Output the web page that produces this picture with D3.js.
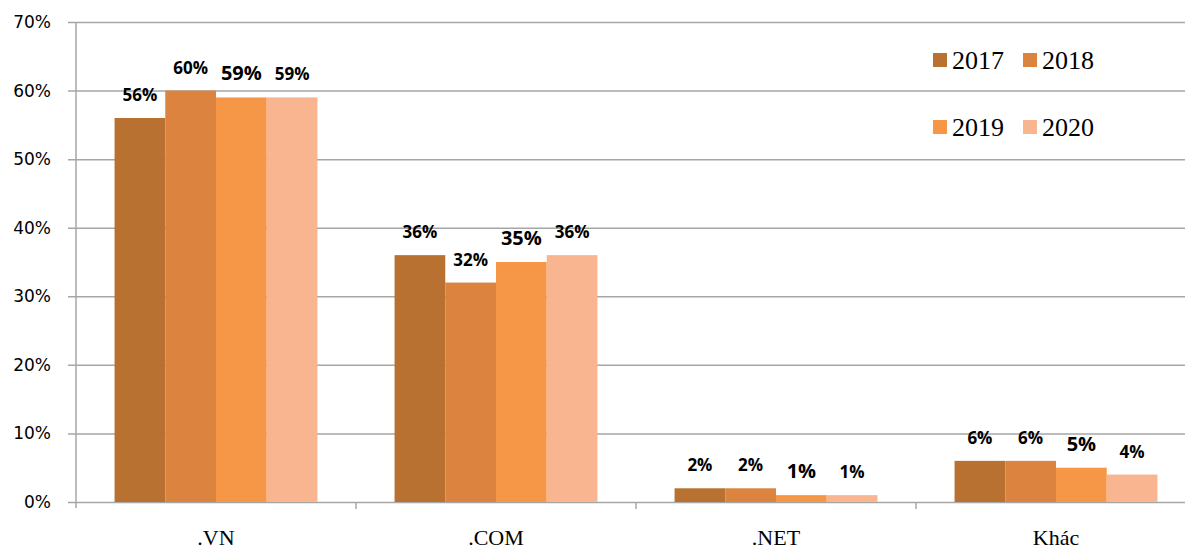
<!DOCTYPE html>
<html>
<head>
<meta charset="utf-8">
<script src="https://cdn.jsdelivr.net/npm/d3@7"></script>
<style>
  html, body { margin: 0; padding: 0; background: #fff; }
  svg { display: block; }
</style>
</head>
<body>
<svg id="chart" width="1185" height="551"></svg>
<script>
// Domain share by extension, 2017–2020
const categories = [".VN", ".COM", ".NET", "Khác"];
const years = ["2017", "2018", "2019", "2020"];
const share2017 = [0.56, 0.36, 0.02, 0.06];
const share2018 = [0.60, 0.32, 0.02, 0.06];
const share2019 = [0.59, 0.35, 0.01, 0.05];
const share2020 = [0.59, 0.36, 0.01, 0.04];
const yTicks = [0, 0.1, 0.2, 0.3, 0.4, 0.5, 0.6, 0.7];

const seriesValues = [share2017, share2018, share2019, share2020];
const colors = ["#B97132", "#DB833F", "#F69747", "#F8B590"];

const svg = d3.select("#chart");
const W = 1185;
const plotLeft = 76, plotRight = 1196, plotTop = 22, plotBottom = 502;

const x0 = d3.scaleBand().domain(categories).range([plotLeft, plotRight]).paddingInner(0).paddingOuter(0);
const x1 = d3.scaleBand().domain(years).range([0, x0.bandwidth()]).paddingInner(0).paddingOuter(0.76);
const y = d3.scaleLinear().domain([0, 0.7]).range([plotBottom, plotTop]);
const color = d3.scaleOrdinal().domain(years).range(colors);

// Y axis with gridlines
const yAxis = d3.axisLeft(y)
  .tickValues(yTicks)
  .tickFormat(d3.format(".0%"))
  .tickSizeInner(8)
  .tickSizeOuter(0)
  .tickPadding(17);

svg.append("g")
  .attr("transform", `translate(${plotLeft},0)`)
  .call(yAxis)
  .call(g => g.select(".domain").remove())
  .call(g => g.selectAll(".tick line")
    .attr("x1", -8).attr("x2", W - plotLeft)
    .attr("stroke", "#a6a6a6").attr("stroke-width", 1.5))
  .call(g => g.selectAll(".tick text")
    .attr("fill", "#000")
    .style("font-family", "'DejaVu Sans', sans-serif")
    .style("font-size", "17px"));

// Vertical axis line
svg.append("line")
  .attr("x1", plotLeft).attr("x2", plotLeft)
  .attr("y1", y(0.7)).attr("y2", plotBottom + 6)
  .attr("stroke", "#a6a6a6").attr("stroke-width", 1.5);

// Category boundary ticks
const boundaries = categories.map(c => x0(c)).concat([x0(categories[categories.length - 1]) + x0.bandwidth()]);
svg.append("g").selectAll("line")
  .data(boundaries.slice(1))
  .join("line")
  .attr("x1", d => d).attr("x2", d => d)
  .attr("y1", plotBottom).attr("y2", plotBottom + 7)
  .attr("stroke", "#a6a6a6").attr("stroke-width", 1.5);

// Bars
const rows = categories.map((c, i) => ({
  cat: c,
  vals: years.map((yr, j) => ({ year: yr, value: seriesValues[j][i] }))
}));

const groups = svg.append("g").selectAll("g")
  .data(rows)
  .join("g")
  .attr("transform", d => `translate(${x0(d.cat)},0)`);

groups.selectAll("rect")
  .data(d => d.vals)
  .join("rect")
  .attr("x", d => x1(d.year))
  .attr("width", x1.bandwidth())
  .attr("y", d => y(d.value))
  .attr("height", d => plotBottom - y(d.value))
  .attr("fill", d => color(d.year));

// Value labels
const labelSize = yr => (yr === "2019" ? 20 : 17);
groups.selectAll("text")
  .data(d => d.vals)
  .join("text")
  .attr("x", d => x1(d.year) + x1.bandwidth() / 2)
  .attr("y", d => y(d.value) - 17)
  .attr("text-anchor", "middle")
  .style("font-family", "'Open Sans', sans-serif")
  .style("font-weight", "bold")
  .style("font-size", d => labelSize(d.year) + "px")
  .attr("fill", "#000")
  .text(d => d3.format(".0%")(d.value));

// Category labels
svg.append("g").selectAll("text")
  .data(categories)
  .join("text")
  .attr("x", d => x0(d) + x0.bandwidth() / 2)
  .attr("y", 545)
  .attr("text-anchor", "middle")
  .style("font-family", "'Liberation Serif', 'Times New Roman', serif")
  .style("font-size", "22px")
  .attr("fill", "#000")
  .text(d => d);

// Legend (2 x 2)
const legendPos = [
  { x: 933, y: 53 }, { x: 1023, y: 53 },
  { x: 933, y: 120 }, { x: 1023, y: 120 }
];
const legend = svg.append("g").selectAll("g")
  .data(years)
  .join("g")
  .attr("transform", (d, i) => `translate(${legendPos[i].x},${legendPos[i].y})`);
legend.append("rect")
  .attr("width", 14).attr("height", 14)
  .attr("fill", d => color(d));
legend.append("text")
  .attr("x", 19).attr("y", 16)
  .style("font-family", "'Liberation Serif', 'Times New Roman', serif")
  .style("font-size", "26px")
  .attr("fill", "#000")
  .text(d => d);
</script>
</body>
</html>
